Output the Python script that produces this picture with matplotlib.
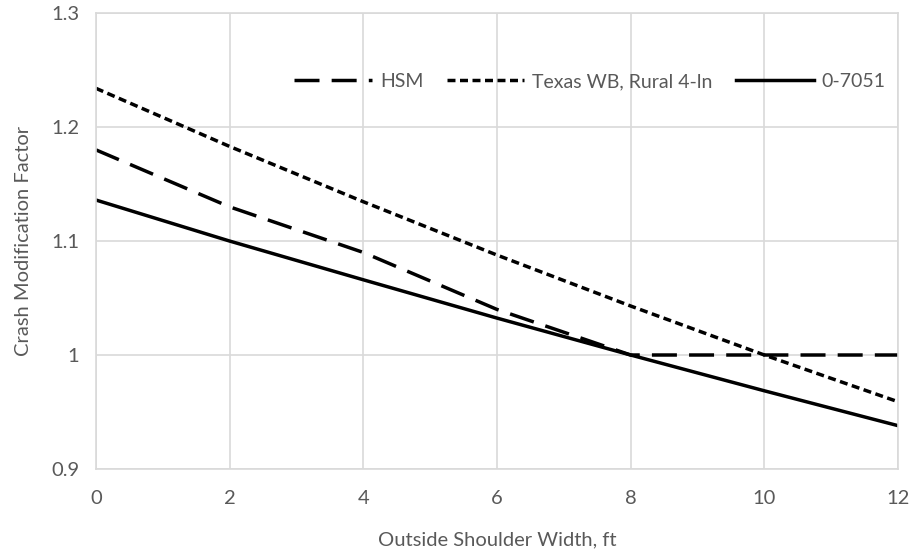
import numpy as np
import matplotlib
matplotlib.use("Agg")
import matplotlib.pyplot as plt

plt.rcParams["font.family"] = ["Lato", "DejaVu Sans"]

# outside shoulder width, ft
width = [0, 2, 4, 6, 8, 10, 12]

# crash modification factors
cmf_hsm = [1.18, 1.13, 1.09, 1.04, 1.00, 1.00, 1.00]
cmf_texas = [1.234, 1.183, 1.1345, 1.0877, 1.043, 1.00, 0.959]
cmf_7051 = [1.136, 1.100, 1.066, 1.0324, 1.00, 0.9686, 0.938]

text_col = "#595959"
grid_col = "#d9d9d9"

fig = plt.figure(figsize=(9.13, 5.56), dpi=100)
ax = fig.add_axes([0.105, 0.1565, 0.8786, 0.82])

ax.plot(width, cmf_hsm, color="black", linewidth=2.5, dashes=(7.2, 3.5), label="HSM")
ax.plot(width, cmf_texas, color="black", linewidth=2.5, dashes=(2.3, 1.3), label="Texas WB, Rural 4-ln")
ax.plot(width, cmf_7051, color="black", linewidth=2.5, label="0-7051")

ax.set_xlim(0, 12)
ax.set_ylim(0.9, 1.3)
ax.set_xticks([0, 2, 4, 6, 8, 10, 12])
ax.set_yticks([0.9, 1.0, 1.1, 1.2, 1.3])
ax.set_yticklabels(["0.9", "1", "1.1", "1.2", "1.3"])
ax.tick_params(length=0, colors=text_col, labelsize=14.5)
ax.tick_params(axis="x", pad=15)
ax.tick_params(axis="y", pad=12)

ax.grid(True, color=grid_col, linewidth=1.2)
ax.set_axisbelow(True)
for s in ax.spines.values():
    s.set_color(grid_col)
    s.set_linewidth(1.2)

ax.set_xlabel("Outside Shoulder Width, ft", color=text_col, fontsize=14.5, labelpad=18)
ax.set_ylabel("Crash Modification Factor", color=text_col, fontsize=14.5, labelpad=14)

leg = ax.legend(loc="center", bbox_to_anchor=(0.616, 0.85), ncol=3, frameon=False,
                fontsize=14, handlelength=4.0, columnspacing=1.2, handletextpad=0.4)
for t in leg.get_texts():
    t.set_color(text_col)

fig.savefig("out.png", dpi=100)
